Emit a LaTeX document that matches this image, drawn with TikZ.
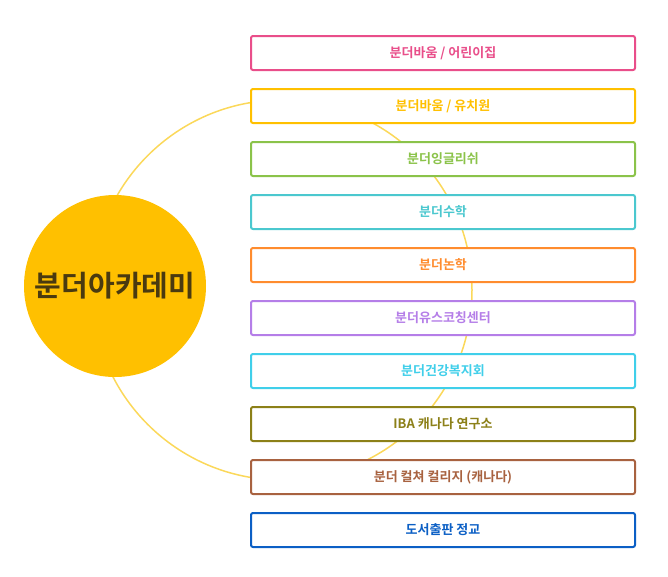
\documentclass[tikz,border=0pt]{standalone}
\usepackage{fontspec}
\newfontfamily\kofont{Noto Sans CJK KR}[BoldFont={* Bold}]
\usetikzlibrary{positioning}
\definecolor{cpink}{HTML}{E94E8A}
\definecolor{cyellow}{HTML}{FFC000}
\definecolor{cgreen}{HTML}{8BC34A}
\definecolor{cteal}{HTML}{4BC8CF}
\definecolor{corange}{HTML}{FF8C2E}
\definecolor{cpurple}{HTML}{B57EE8}
\definecolor{ccyan}{HTML}{40CFEA}
\definecolor{colive}{HTML}{8C8018}
\definecolor{cbrown}{HTML}{A86240}
\definecolor{cblue}{HTML}{0B5FC5}
\definecolor{carc}{HTML}{FBD85A}
\definecolor{ctitle}{HTML}{4A3A10}
\tikzset{branch/.style={draw=#1, text=#1, fill=white, line width=2pt, rounded corners=2pt,
  minimum width=384pt, minimum height=34pt, font=\kofont\bfseries\fontsize{13}{15}\selectfont}}
\tikzset{hub/.style={circle, fill=cyellow, minimum size=182pt, inner sep=0pt,
  font=\kofont\bfseries\fontsize{29}{32}\selectfont, text=ctitle}}
\begin{document}
\begin{tikzpicture}[x=1pt,y=-1pt]
\useasboundingbox (0,0) rectangle (668,576);
\draw[carc, line width=1.5pt] (282,290) circle (190);
\node[hub] (academy) at (115,286) {분더아카데미};

\node[branch=cpink] (daycare) at (443,53) {분더바움 / 어린이집};
\node[branch=cyellow, below=17pt of daycare] (kinder) {분더바움 / 유치원};
\node[branch=cgreen, below=17pt of kinder] (english) {분더잉글리쉬};
\node[branch=cteal, below=17pt of english] (math) {분더수학};
\node[branch=corange, below=17pt of math] (logic) {분더논학};
\node[branch=cpurple, below=17pt of logic] (coaching) {분더유스코칭센터};
\node[branch=ccyan, below=17pt of coaching] (welfare) {분더건강복지회};
\node[branch=colive, below=17pt of welfare] (iba) {IBA 캐나다 연구소};
\node[branch=cbrown, below=17pt of iba] (college) {분더 컬쳐 컬리지 (캐나다)};
\node[branch=cblue, below=17pt of college] (press) {도서출판 정교};
\end{tikzpicture}
\end{document}
